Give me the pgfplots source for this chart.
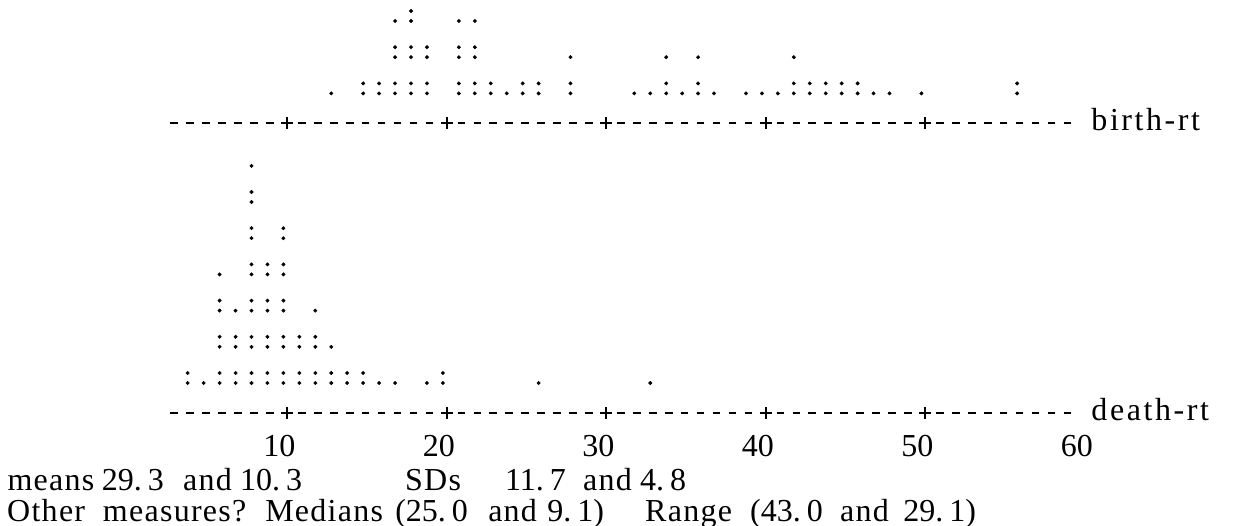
\documentclass[border=0pt]{standalone}
\usepackage{pgfplots}
\pgfplotsset{compat=1.18}
\usepackage{fontspec}
\setmainfont{Liberation Serif}
\newcommand{\dt}{.\kern6pt}
\begin{document}
\fontsize{32}{36}\selectfont
\begin{tikzpicture}
\tikzset{txt/.style={anchor=base west, inner sep=0pt, font=\fontsize{32}{36}\selectfont\addfontfeature{LetterSpace=4}},
         num/.style={anchor=base west, inner sep=0pt, font=\fontsize{32}{36}\selectfont},
         lab/.style={anchor=base west, inner sep=0pt, font=\fontsize{32}{36}\selectfont\addfontfeature{LetterSpace=8}},
         tck/.style={anchor=base, inner sep=0pt, font=\fontsize{32}{36}\selectfont}}
\pgfplotsset{dot/.style={only marks, mark=*, mark size=1.75pt, mark options={draw=none, fill=black}, xshift=-4pt},
  dsh/.style={only marks, mark=-, mark size=3.8pt, mark options={line width=2pt}, xshift=-1.5pt},
  pls/.style={only marks, mark=+, mark size=6pt, mark options={line width=2pt}}}
\begin{axis}[
  scale only axis, width=1234pt, height=526pt,
  xmin=-8.019, xmax=69.348, ymin=-0.580, ymax=13.950, y dir=reverse,
  axis lines=none, clip=false]
\coordinate (sw) at (rel axis cs:0,0);
\coordinate (ne) at (rel axis cs:1,1);
% ---- birth-rt dot plot: lower dots of every symbol
\addplot[dot] coordinates {
 (17,0)(18,0)(21,0)(22,0)
 (17,1)(18,1)(19,1)(21,1)(22,1)(28,1)(34,1)(36,1)(42,1)
 (13,2)(15,2)(16,2)(17,2)(18,2)(19,2)(21,2)(22,2)(23,2)(24,2)(25,2)(26,2)(28,2)
 (32,2)(33,2)(34,2)(35,2)(36,2)(37,2)(39,2)(40,2)(41,2)(42,2)(43,2)(44,2)(45,2)
 (46,2)(47,2)(48,2)(50,2)(56,2)};
% upper dots of the colons
\addplot[dot, yshift=10pt] coordinates {
 (18,0)
 (17,1)(18,1)(19,1)(21,1)(22,1)
 (15,2)(16,2)(17,2)(18,2)(19,2)(21,2)(22,2)(23,2)(25,2)(26,2)(28,2)
 (34,2)(36,2)(42,2)(43,2)(44,2)(45,2)(46,2)(56,2)};
% ---- death-rt dot plot
\addplot[dot] coordinates {
 (8,4)
 (8,5)
 (8,6)(10,6)
 (6,7)(8,7)(9,7)(10,7)
 (6,8)(7,8)(8,8)(9,8)(10,8)(12,8)
 (6,9)(7,9)(8,9)(9,9)(10,9)(11,9)(12,9)(13,9)
 (4,10)(5,10)(6,10)(7,10)(8,10)(9,10)(10,10)(11,10)(12,10)(13,10)(14,10)(15,10)
 (16,10)(17,10)(19,10)(20,10)(26,10)(33,10)};
\addplot[dot, yshift=10pt] coordinates {
 (8,5)
 (8,6)(10,6)
 (8,7)(9,7)(10,7)
 (6,8)(8,8)(9,8)(10,8)
 (6,9)(7,9)(8,9)(9,9)(10,9)(11,9)(12,9)
 (4,10)(6,10)(7,10)(8,10)(9,10)(10,10)(11,10)(12,10)(13,10)(14,10)(15,10)(20,10)};
% ---- the two scales
\addplot[dsh] coordinates {
 (3,2.818)(4,2.818)(5,2.818)(6,2.818)(7,2.818)(8,2.818)(9,2.818)
 (11,2.818)(12,2.818)(13,2.818)(14,2.818)(15,2.818)(16,2.818)(17,2.818)(18,2.818)(19,2.818)
 (21,2.818)(22,2.818)(23,2.818)(24,2.818)(25,2.818)(26,2.818)(27,2.818)(28,2.818)(29,2.818)
 (31,2.818)(32,2.818)(33,2.818)(34,2.818)(35,2.818)(36,2.818)(37,2.818)(38,2.818)(39,2.818)
 (41,2.818)(42,2.818)(43,2.818)(44,2.818)(45,2.818)(46,2.818)(47,2.818)(48,2.818)(49,2.818)
 (51,2.818)(52,2.818)(53,2.818)(54,2.818)(55,2.818)(56,2.818)(57,2.818)(58,2.818)(59,2.818)};
\addplot[pls] coordinates {(10,2.818)(20,2.818)(30,2.818)(40,2.818)(50,2.818)};
\addplot[dsh] coordinates {
 (3,10.829)(4,10.829)(5,10.829)(6,10.829)(7,10.829)(8,10.829)(9,10.829)
 (11,10.829)(12,10.829)(13,10.829)(14,10.829)(15,10.829)(16,10.829)(17,10.829)(18,10.829)(19,10.829)
 (21,10.829)(22,10.829)(23,10.829)(24,10.829)(25,10.829)(26,10.829)(27,10.829)(28,10.829)(29,10.829)
 (31,10.829)(32,10.829)(33,10.829)(34,10.829)(35,10.829)(36,10.829)(37,10.829)(38,10.829)(39,10.829)
 (41,10.829)(42,10.829)(43,10.829)(44,10.829)(45,10.829)(46,10.829)(47,10.829)(48,10.829)(49,10.829)
 (51,10.829)(52,10.829)(53,10.829)(54,10.829)(55,10.829)(56,10.829)(57,10.829)(58,10.829)(59,10.829)};
\addplot[pls] coordinates {(10,10.829)(20,10.829)(30,10.829)(40,10.829)(50,10.829)};
% ---- labels
\node[lab] at (axis cs:60.4,3.030) {birth-rt};
\node[lab] at (axis cs:60.4,11.041) {death-rt};
\node[tck] at (axis cs:9.5,12.017) {10};
\node[tck] at (axis cs:19.5,12.017) {20};
\node[tck] at (axis cs:29.5,12.017) {30};
\node[tck] at (axis cs:39.5,12.017) {40};
\node[tck] at (axis cs:49.5,12.017) {50};
\node[tck] at (axis cs:59.5,12.017) {60};
% ---- summary lines
\node[txt] at (axis cs:-7.56,12.956) {means};
\node[num] at (axis cs:-1.64,12.956) {29\dt3};
\node[txt] at (axis cs:3.45,12.956) {and};
\node[num] at (axis cs:7.03,12.956) {10\dt3};
\node[txt] at (axis cs:17.37,12.956) {SDs};
\node[num] at (axis cs:23.64,12.956) {11\dt7};
\node[txt] at (axis cs:28.53,12.956) {and};
\node[num] at (axis cs:32.1,12.956) {4\dt8};
\node[txt] at (axis cs:-7.58,13.812) {Other};
\node[txt] at (axis cs:-1.58,13.812) {measures?};
\node[txt] at (axis cs:8.6,13.812) {Medians};
\node[num] at (axis cs:16.75,13.812) {(25\dt0};
\node[txt] at (axis cs:22.58,13.812) {and};
\node[num] at (axis cs:26.28,13.812) {9\dt1)};
\node[txt] at (axis cs:32.42,13.812) {Range};
\node[num] at (axis cs:39.0,13.812) {(43\dt0};
\node[txt] at (axis cs:44.64,13.812) {and};
\node[num] at (axis cs:48.6,13.812) {29\dt1)};
\end{axis}
\pgfresetboundingbox
\path (sw) rectangle (ne);
\end{tikzpicture}
\end{document}
